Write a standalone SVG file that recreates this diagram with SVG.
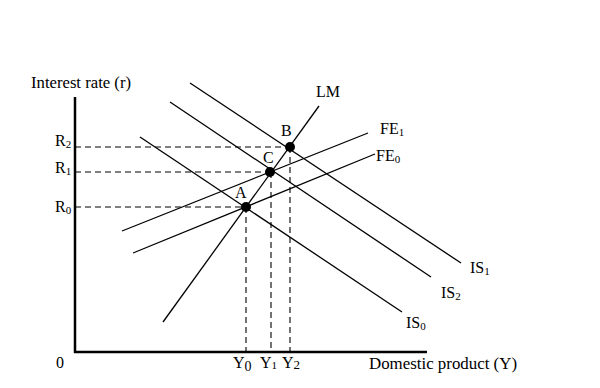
<svg xmlns="http://www.w3.org/2000/svg" width="600" height="388" viewBox="0 0 600 388">
<style>
text{font-family:"Liberation Serif","Times New Roman",serif;font-size:16px;fill:#000}
.sub{font-size:11px}
.ln{stroke:#000;stroke-width:1.3;fill:none}
.ax{stroke:#000;stroke-width:2.5;fill:none}
.dash{stroke:#000;stroke-width:1.1;stroke-dasharray:6 4;fill:none}
.pt{fill:#000}
</style>
<rect width="600" height="388" fill="#fff"/>
<g id="axes">
<path class="ax" d="M75,97 V352 H427"/>
<text x="31" y="88" textLength="100" lengthAdjust="spacingAndGlyphs">Interest rate (r)</text>
<text x="369" y="369" textLength="148" lengthAdjust="spacingAndGlyphs">Domestic product (Y)</text>
<text x="56" y="368">0</text>
</g>
<g id="connectors">
<path class="dash" d="M75,147 H290 M75,172 H270 M75,207 H246"/>
<path class="dash" d="M246,207 V352 M271,172 V352 M290,147 V352"/>
</g>
<g id="LM"><path class="ln" d="M163,322 L319,106"/><text x="316" y="97">LM</text></g>
<g id="FE1"><path class="ln" d="M122,231 L368,133"/><text x="380" y="134">FE<tspan class="sub" dy="2">1</tspan></text></g>
<g id="FE0"><path class="ln" d="M133,253 L375,154"/><text x="376" y="161">FE<tspan class="sub" dy="2">0</tspan></text></g>
<g id="IS0"><path class="ln" d="M140,137 L402,312"/><text x="406" y="328">IS<tspan class="sub" dy="2">0</tspan></text></g>
<g id="IS2"><path class="ln" d="M170,102 L431,277"/><text x="441" y="298">IS<tspan class="sub" dy="2">2</tspan></text></g>
<g id="IS1"><path class="ln" d="M190,83 L461,263"/><text x="470" y="273">IS<tspan class="sub" dy="2">1</tspan></text></g>
<g id="A"><circle class="pt" cx="246" cy="207" r="5"/><text x="235" y="198">A</text></g>
<g id="C"><circle class="pt" cx="270" cy="172" r="5"/><text x="263" y="163">C</text></g>
<g id="B"><circle class="pt" cx="290" cy="147" r="5"/><text x="281" y="136">B</text></g>
<g id="R2"><text x="55" y="146">R<tspan class="sub" dy="2">2</tspan></text></g>
<g id="R1"><text x="55" y="173">R<tspan class="sub" dy="2">1</tspan></text></g>
<g id="R0"><text x="55" y="212">R<tspan class="sub" dy="2">0</tspan></text></g>
<g id="Y0"><text x="233" y="368">Y<tspan dy="3" font-size="14">0</tspan></text></g>
<g id="Y1"><text x="260" y="368">Y<tspan class="sub" dy="1" font-size="13">1</tspan></text></g>
<g id="Y2"><text x="282" y="368">Y<tspan dy="1" font-size="13">2</tspan></text></g>
</svg>
